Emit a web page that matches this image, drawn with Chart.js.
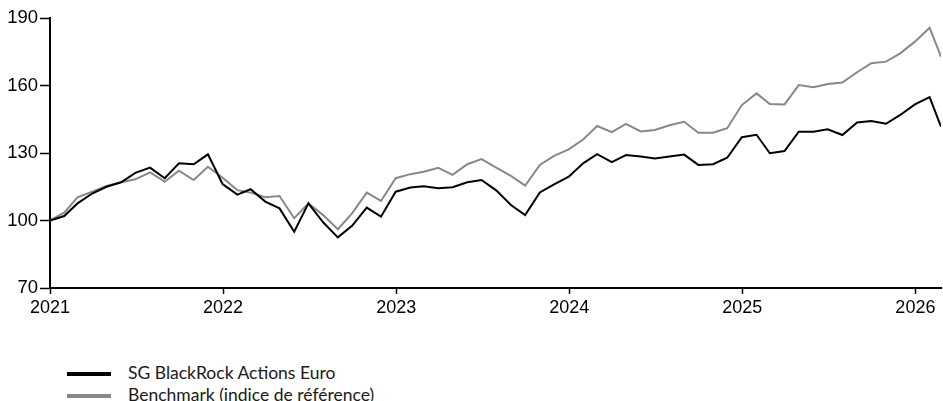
<!DOCTYPE html>
<html>
<head>
<meta charset="utf-8">
<script src="https://cdn.jsdelivr.net/npm/chart.js@4.4.1/dist/chart.umd.min.js"></script>
<style>
  html, body { margin: 0; padding: 0; background: #fff; width: 943px; height: 401px; overflow: hidden; }
  #wrap { position: relative; width: 943px; height: 401px; }
  canvas { position: absolute; left: 0; top: 0; }
  .leg { position: absolute; left: 67px; font-family: Lato, "Open Sans", sans-serif; font-size: 17.5px; color: #1a1a1a; white-space: nowrap; }
  .leg .sw { position: absolute; left: 0; width: 44px; height: 4px; }
  .leg .tx { position: absolute; left: 61px; }
</style>
</head>
<body>
<div id="wrap">
  <canvas id="c" width="943" height="330"></canvas>
  <div id="legend"></div>
</div>
<script>
const seriesNames = ["SG BlackRock Actions Euro", "Benchmark (indice de référence)"];
const seriesColors = ["#000000", "#888888"];

const dates = [
  "2020-12-31",
  "2021-01-31","2021-02-28","2021-03-31","2021-04-30","2021-05-31","2021-06-30",
  "2021-07-31","2021-08-31","2021-09-30","2021-10-31","2021-11-30","2021-12-31",
  "2022-01-31","2022-02-28","2022-03-31","2022-04-30","2022-05-31","2022-06-30",
  "2022-07-31","2022-08-31","2022-09-30","2022-10-31","2022-11-30","2022-12-31",
  "2023-01-31","2023-02-28","2023-03-31","2023-04-30","2023-05-31","2023-06-30",
  "2023-07-31","2023-08-31","2023-09-30","2023-10-31","2023-11-30","2023-12-31",
  "2024-01-31","2024-02-29","2024-03-31","2024-04-30","2024-05-31","2024-06-30",
  "2024-07-31","2024-08-31","2024-09-30","2024-10-31","2024-11-30","2024-12-31",
  "2025-01-31","2025-02-28","2025-03-31","2025-04-30","2025-05-31","2025-06-30",
  "2025-07-31","2025-08-31","2025-09-30","2025-10-31","2025-11-30","2025-12-31",
  "2026-01-31","2026-02-24"
];

const fund = [
  100, 102, 107.6, 112, 115, 117, 121.2, 123.5, 118.8, 125.4, 125, 129.4, 116.2,
  111.5, 113.9, 108.4, 105.4, 95, 107.6, 99.2, 92.5, 97.6, 105.7, 101.7, 112.8,
  114.7, 115.2, 114.3, 114.8, 117, 118, 113.4, 106.9, 102.4, 112.5, 116.1, 119.5,
  125.5, 129.5, 125.9, 129.1, 128.4, 127.6, 128.4, 129.3, 124.7, 125, 127.9, 137,
  138.1, 129.9, 130.9, 139.5, 139.5, 140.5, 138, 143.6, 144.2, 143, 146.9, 151.6,
  154.8, 141.7
];

const benchmark = [
  100, 103.5, 110.3, 112.8, 115.3, 117, 118.3, 121.4, 117.3, 122.1, 118, 123.9, 119,
  113.5, 112.4, 110.3, 110.9, 101, 107.6, 102.4, 96.1, 103.2, 112.4, 108.7, 118.8,
  120.6, 121.7, 123.4, 120.3, 125, 127.3, 123.5, 119.8, 115.5, 124.7, 128.7, 131.6,
  136.1, 142, 139.3, 142.9, 139.6, 140.2, 142.3, 143.9, 139, 139, 141, 151.3,
  156.5, 151.8, 151.6, 160.2, 159.2, 160.7, 161.3, 165.9, 169.9, 170.6, 174.3, 179.5,
  185.7, 172.8
];

const xTickLabels = [2021, 2022, 2023, 2024, 2025, 2026];
const yTickLabels = [70, 100, 130, 160, 190];

function toYear(s) {
  const d = new Date(s + "T00:00:00Z");
  const y = d.getUTCFullYear();
  const start = Date.UTC(y, 0, 1), end = Date.UTC(y + 1, 0, 1);
  return y + (d.getTime() - start) / (end - start);
}
const xs = dates.map(toYear);
const xs0 = xs.map((v, i) => (i === 0 ? xTickLabels[0] : v));

const mk = (vals) => vals.map((v, i) => ({ x: xs0[i], y: v }));

new Chart(document.getElementById("c"), {
  type: "line",
  data: {
    datasets: [
      { label: seriesNames[0], data: mk(fund), borderColor: seriesColors[0], borderWidth: 2, pointRadius: 0, tension: 0, order: 1 },
      { label: seriesNames[1], data: mk(benchmark), borderColor: seriesColors[1], borderWidth: 2, pointRadius: 0, tension: 0, order: 2 }
    ]
  },
  options: {
    responsive: false,
    animation: false,
    layout: { padding: { top: 18, right: 2, left: 0, bottom: 0 } },
    plugins: { legend: { display: false }, tooltip: { enabled: false } },
    scales: {
      x: {
        type: "linear",
        min: xTickLabels[0],
        max: xs[xs.length - 1],
        afterBuildTicks: (s) => { s.ticks = xTickLabels.map(v => ({ value: v })); },
        afterFit: (s) => { s.height = 42; },
        grid: { drawOnChartArea: false, drawTicks: true, tickLength: 6, tickColor: "#000", tickWidth: 1.5 },
        border: { color: "#000", width: 2 },
        ticks: { color: "#000", padding: 3, maxRotation: 0, autoSkip: false, font: { family: "Liberation Sans, Arial, sans-serif", size: 18 }, callback: (v) => String(v) }
      },
      y: {
        min: yTickLabels[0],
        max: yTickLabels[yTickLabels.length - 1],
        afterBuildTicks: (s) => { s.ticks = yTickLabels.map(v => ({ value: v })); },
        afterFit: (s) => { s.width = 50; },
        grid: { drawOnChartArea: false, drawTicks: true, tickLength: 10, tickColor: "#000", tickWidth: 1.5 },
        border: { color: "#000", width: 2 },
        ticks: { color: "#000", padding: 2, font: { family: "Liberation Sans, Arial, sans-serif", size: 18.5 }, callback: (v) => String(v) }
      }
    }
  }
});

const legend = document.getElementById("legend");
const legTops = [362, 384];
seriesNames.forEach((n, i) => {
  const d = document.createElement("div");
  d.className = "leg";
  d.style.top = legTops[i] + "px";
  d.innerHTML = '<span class="sw" style="top:10px;background:' + seriesColors[i] + '"></span><span class="tx"></span>';
  d.querySelector(".tx").textContent = n;
  legend.appendChild(d);
});
</script>
</body>
</html>
